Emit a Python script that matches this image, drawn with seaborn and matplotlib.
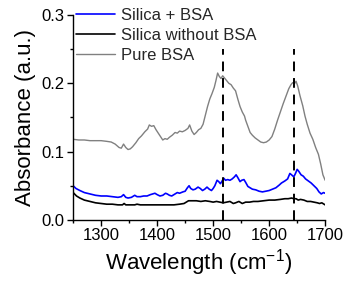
import matplotlib
matplotlib.use("Agg")
import matplotlib.pyplot as plt
from matplotlib.ticker import MultipleLocator
import numpy as np
import pandas as pd
import seaborn as sns

sns.set_theme(style="ticks")
plt.rcParams['font.family'] = ['Liberation Sans', 'DejaVu Sans']
plt.rcParams['mathtext.default'] = 'regular'

# Pure BSA spectrum (gray)
wl_bsa = [1250, 1260, 1270, 1280, 1290, 1300, 1310, 1318, 1325, 1332, 1336, 1340, 1344, 1348,
          1352, 1356, 1362, 1367, 1372, 1378, 1383, 1386, 1390, 1394, 1398, 1402, 1406, 1410,
          1414, 1418, 1422, 1427, 1432, 1436, 1440, 1445, 1450, 1455, 1458, 1462, 1466, 1470,
          1474, 1478, 1482, 1486, 1490, 1494, 1498, 1502, 1505, 1508, 1511, 1514, 1517, 1520,
          1524, 1528, 1532, 1536, 1540, 1544, 1548, 1552, 1556, 1558, 1562, 1566, 1570, 1575,
          1580, 1585, 1590, 1595, 1600, 1605, 1610, 1615, 1620, 1625, 1630, 1635, 1639, 1642,
          1645, 1648, 1651, 1655, 1660, 1664, 1668, 1673, 1678, 1683, 1688, 1692, 1696, 1700]
abs_bsa = [0.118, 0.117, 0.117, 0.116, 0.116, 0.116, 0.115, 0.114, 0.111, 0.106, 0.105, 0.111, 0.106, 0.103,
           0.104, 0.107, 0.113, 0.119, 0.123, 0.129, 0.133, 0.139, 0.137, 0.138, 0.132, 0.127, 0.122, 0.117,
           0.119, 0.118, 0.121, 0.124, 0.128, 0.127, 0.130, 0.129, 0.131, 0.134, 0.139, 0.130, 0.125, 0.128,
           0.132, 0.134, 0.140, 0.153, 0.166, 0.177, 0.185, 0.194, 0.204, 0.215, 0.210, 0.207, 0.211, 0.208,
           0.204, 0.200, 0.198, 0.193, 0.189, 0.177, 0.166, 0.158, 0.152, 0.146, 0.137, 0.128, 0.124, 0.120,
           0.117, 0.114, 0.113, 0.114, 0.117, 0.122, 0.133, 0.146, 0.158, 0.170, 0.181, 0.192, 0.198, 0.201,
           0.199, 0.203, 0.196, 0.182, 0.167, 0.152, 0.140, 0.127, 0.118, 0.106, 0.096, 0.082, 0.066, 0.058]

# Silica + BSA (blue)
wl_sb = [1250, 1255, 1262, 1270, 1280, 1290, 1300, 1310, 1320, 1330, 1336, 1340, 1344, 1348, 1354,
         1360, 1364, 1370, 1376, 1382, 1388, 1392, 1396, 1400, 1405, 1410, 1415, 1418, 1422, 1426,
         1432, 1436, 1440, 1446, 1450, 1454, 1457, 1460, 1464, 1468, 1473, 1477, 1481, 1485, 1489,
         1493, 1497, 1500, 1503, 1507, 1510, 1513, 1516, 1519, 1522, 1526, 1530, 1534, 1538, 1541,
         1544, 1548, 1551, 1555, 1558, 1562, 1566, 1570, 1576, 1582, 1588, 1594, 1600, 1606, 1612,
         1618, 1622, 1628, 1633, 1637, 1640, 1644, 1647, 1650, 1653, 1657, 1661, 1665, 1670, 1675,
         1680, 1685, 1689, 1693, 1697, 1700]
abs_sb = [0.050, 0.046, 0.043, 0.040, 0.038, 0.036, 0.035, 0.035, 0.034, 0.033, 0.034, 0.037, 0.033, 0.032, 0.033,
          0.036, 0.034, 0.034, 0.035, 0.035, 0.037, 0.038, 0.039, 0.037, 0.035, 0.036, 0.039, 0.038, 0.036, 0.035,
          0.038, 0.040, 0.039, 0.041, 0.042, 0.047, 0.050, 0.046, 0.044, 0.045, 0.048, 0.046, 0.043, 0.045, 0.048,
          0.045, 0.043, 0.046, 0.050, 0.058, 0.056, 0.053, 0.057, 0.061, 0.058, 0.059, 0.058, 0.060, 0.063, 0.066,
          0.062, 0.056, 0.058, 0.059, 0.055, 0.049, 0.047, 0.045, 0.044, 0.042, 0.041, 0.042, 0.043, 0.045, 0.047,
          0.051, 0.054, 0.057, 0.060, 0.068, 0.066, 0.063, 0.068, 0.074, 0.071, 0.066, 0.064, 0.060, 0.057, 0.054,
          0.050, 0.046, 0.041, 0.038, 0.040, 0.039]

# Silica without BSA (black)
wl_si = [1250, 1256, 1262, 1270, 1280, 1290, 1300, 1310, 1320, 1330, 1338, 1341, 1344, 1350, 1360,
         1364, 1370, 1380, 1390, 1400, 1410, 1420, 1430, 1440, 1448, 1452, 1456, 1462, 1470, 1478,
         1486, 1494, 1500, 1506, 1512, 1518, 1524, 1530, 1536, 1540, 1546, 1552, 1558, 1565, 1572,
         1580, 1590, 1600, 1610, 1620, 1628, 1634, 1640, 1644, 1648, 1652, 1656, 1662, 1668, 1674,
         1680, 1686, 1690, 1694, 1700]
abs_si = [0.040, 0.035, 0.032, 0.029, 0.027, 0.025, 0.024, 0.023, 0.023, 0.022, 0.022, 0.024, 0.022, 0.022, 0.022,
          0.023, 0.022, 0.022, 0.022, 0.022, 0.022, 0.022, 0.022, 0.023, 0.024, 0.026, 0.028, 0.028, 0.028, 0.027,
          0.028, 0.027, 0.026, 0.027, 0.026, 0.025, 0.026, 0.027, 0.024, 0.025, 0.027, 0.024, 0.026, 0.026, 0.027,
          0.027, 0.028, 0.029, 0.029, 0.030, 0.031, 0.031, 0.032, 0.031, 0.031, 0.029, 0.030, 0.029, 0.027, 0.027,
          0.026, 0.025, 0.024, 0.025, 0.022]

# Marked band positions (dashed lines)
band_pos = [1517, 1645]

fig = plt.figure(figsize=(3.5, 2.83), dpi=100)
ax = fig.add_axes([0.209, 0.223, 0.72, 0.724])

df_sb = pd.DataFrame({'wl': wl_sb, 'abs': abs_sb})
df_si = pd.DataFrame({'wl': wl_si, 'abs': abs_si})
df_bsa = pd.DataFrame({'wl': wl_bsa, 'abs': abs_bsa})

sns.lineplot(data=df_sb, x='wl', y='abs', color='#0000ff', lw=1.2, label='Silica + BSA', ax=ax)
sns.lineplot(data=df_si, x='wl', y='abs', color='black', lw=1.2, label='Silica without BSA', ax=ax)
sns.lineplot(data=df_bsa, x='wl', y='abs', color='#808080', lw=1.0, label='Pure BSA', ax=ax)

for b in band_pos:
    ax.plot([b, b], [0, 0.25], color='black', lw=1.4, ls=(0, (5, 3.5)))

ax.set_xlim(1250, 1700)
ax.set_ylim(0, 0.3)
ax.xaxis.set_major_locator(MultipleLocator(100))
ax.xaxis.set_minor_locator(MultipleLocator(50))
ax.yaxis.set_major_locator(MultipleLocator(0.1))
ax.yaxis.set_minor_locator(MultipleLocator(0.05))
ax.yaxis.set_major_formatter(plt.FormatStrFormatter('%.1f'))
ax.tick_params(which='major', length=4, width=1, labelsize=12, pad=2, color='black', labelcolor='black')
ax.tick_params(which='minor', length=2.5, width=1, color='black')
sns.despine(ax=ax)
for s in ['left', 'bottom']:
    ax.spines[s].set_color('black')
    ax.spines[s].set_linewidth(1)

ax.set_xlabel('Wavelength (cm$^{-1}$)', fontsize=16, labelpad=3, color='black')
ax.set_ylabel('Absorbance (a.u.)', fontsize=16, labelpad=4, color='black')

ax.legend(loc='upper left', bbox_to_anchor=(0.0, 1.05), frameon=False, fontsize=12,
          handlelength=2.3, handletextpad=0.4, labelspacing=0.3, borderaxespad=0.1,
          borderpad=0.1)

fig.savefig('out.png', dpi=100)
